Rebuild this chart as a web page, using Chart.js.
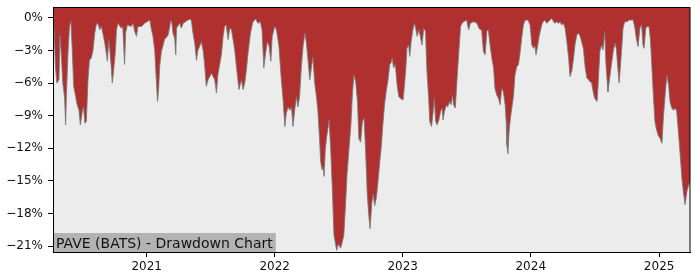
<!DOCTYPE html>
<html>
<head>
<meta charset="utf-8">
<script src="https://cdn.jsdelivr.net/npm/chart.js@4.4.1/dist/chart.umd.min.js"></script>
<style>
  html, body { margin: 0; padding: 0; background: #ffffff; }
  #wrap { width: 700px; height: 280px; }
</style>
</head>
<body>
<div id="wrap"><canvas id="ddChart" width="700" height="280"></canvas></div>
<script>
// Data
const dates = [
  '2020-04-09','2020-04-12','2020-04-16','2020-04-20','2020-04-26','2020-04-29','2020-05-03','2020-05-07','2020-05-12','2020-05-15',
  '2020-05-17','2020-05-22','2020-05-26','2020-05-30','2020-06-03','2020-06-07','2020-06-13','2020-06-16','2020-06-22','2020-06-26',
  '2020-07-02','2020-07-05','2020-07-09','2020-07-13','2020-07-18','2020-07-22','2020-07-27','2020-08-01','2020-08-06','2020-08-11',
  '2020-08-17','2020-08-20','2020-08-25','2020-08-29','2020-09-03','2020-09-08','2020-09-11','2020-09-15','2020-09-18','2020-09-22',
  '2020-09-25','2020-09-29','2020-10-04','2020-10-07','2020-10-11','2020-10-21','2020-10-25','2020-10-30','2020-11-02','2020-11-07',
  '2020-11-18','2020-11-23','2020-11-28','2020-12-03','2020-12-07','2020-12-17','2020-12-26',
  '2021-01-10','2021-01-14','2021-01-19','2021-01-24','2021-01-29','2021-02-01','2021-02-04','2021-02-07','2021-02-12','2021-02-21',
  '2021-03-03','2021-03-08','2021-03-10','2021-03-14','2021-03-17','2021-03-22','2021-03-25','2021-03-27','2021-04-05','2021-04-10',
  '2021-04-15','2021-04-29','2021-05-06','2021-05-09','2021-05-13','2021-05-18','2021-05-23','2021-05-27','2021-06-06','2021-06-11',
  '2021-06-15','2021-06-20','2021-06-25','2021-07-05','2021-07-14','2021-07-19','2021-07-23','2021-08-02','2021-08-07','2021-08-11',
  '2021-08-16','2021-08-21','2021-08-26','2021-08-31','2021-09-09','2021-09-14','2021-09-21','2021-09-28','2021-10-03','2021-10-08',
  '2021-10-12','2021-10-17','2021-10-24','2021-10-31','2021-11-08','2021-11-14','2021-11-21','2021-11-26','2021-12-01','2021-12-06',
  '2021-12-11','2021-12-16','2021-12-21','2021-12-25','2022-01-01',
  '2022-01-06','2022-01-13','2022-01-20','2022-01-25','2022-01-30','2022-02-03','2022-02-08','2022-02-13','2022-02-18','2022-02-22',
  '2022-02-27','2022-03-04','2022-03-08','2022-03-13','2022-03-18','2022-03-23','2022-03-28','2022-04-01','2022-04-06','2022-04-11',
  '2022-04-16','2022-04-20','2022-04-25','2022-04-30','2022-05-04','2022-05-09','2022-05-12','2022-05-16','2022-05-19','2022-05-22',
  '2022-05-25','2022-05-29','2022-06-05','2022-06-10','2022-06-15','2022-06-19','2022-06-24','2022-06-27','2022-07-02','2022-07-08',
  '2022-07-13','2022-07-17','2022-07-22','2022-07-26','2022-08-01','2022-08-06','2022-08-11','2022-08-15','2022-08-20','2022-08-25',
  '2022-08-29','2022-09-03','2022-09-08','2022-09-13','2022-09-18','2022-09-22','2022-09-27','2022-09-30','2022-10-05','2022-10-09',
  '2022-10-13','2022-10-18','2022-10-23','2022-10-28','2022-11-01','2022-11-05','2022-11-10','2022-11-16','2022-11-19','2022-11-25',
  '2022-11-29','2022-12-02','2022-12-06','2022-12-11','2022-12-16','2022-12-21','2022-12-25','2023-01-02',
  '2023-01-06','2023-01-10','2023-01-13','2023-01-18','2023-01-21','2023-01-25','2023-01-30','2023-02-03','2023-02-07','2023-02-11',
  '2023-02-16','2023-02-20','2023-02-25','2023-03-02','2023-03-07','2023-03-11','2023-03-16','2023-03-19','2023-03-24','2023-03-28',
  '2023-04-01','2023-04-05','2023-04-09','2023-04-14','2023-04-19','2023-04-23','2023-04-26','2023-04-30','2023-05-06','2023-05-09',
  '2023-05-15','2023-05-19','2023-05-23','2023-05-26','2023-05-31','2023-06-05','2023-06-10','2023-06-15','2023-06-19','2023-06-24',
  '2023-07-02','2023-07-08','2023-07-13','2023-07-22','2023-08-01','2023-08-06','2023-08-11','2023-08-14','2023-08-19','2023-08-24',
  '2023-08-29','2023-09-02','2023-09-07','2023-09-12','2023-09-17','2023-09-21','2023-09-26','2023-10-01','2023-10-06','2023-10-10',
  '2023-10-15','2023-10-20','2023-10-23','2023-10-25','2023-10-28','2023-10-31','2023-11-04','2023-11-08','2023-11-13','2023-11-17',
  '2023-11-22','2023-11-27','2023-12-02','2023-12-06','2023-12-11','2023-12-16','2023-12-24','2023-12-30',
  '2024-01-04','2024-01-09','2024-01-13','2024-01-16','2024-01-21','2024-01-25','2024-01-30','2024-02-03','2024-02-09','2024-02-16',
  '2024-02-20','2024-02-25','2024-03-01','2024-03-06','2024-03-10','2024-03-15','2024-03-20','2024-03-25','2024-03-29','2024-04-03',
  '2024-04-08','2024-04-13','2024-04-18','2024-04-22','2024-04-27','2024-05-02','2024-05-06','2024-05-11','2024-05-16','2024-05-21',
  '2024-05-25','2024-05-30','2024-06-04','2024-06-09','2024-06-14','2024-06-18','2024-06-22','2024-06-27','2024-07-01','2024-07-08',
  '2024-07-11','2024-07-16','2024-07-21','2024-07-25','2024-07-30','2024-08-02','2024-08-06','2024-08-08','2024-08-13','2024-08-18',
  '2024-08-23','2024-08-28','2024-09-01','2024-09-06','2024-09-09','2024-09-13','2024-09-17','2024-09-20','2024-09-25','2024-10-02',
  '2024-10-07','2024-10-14','2024-10-19','2024-10-24','2024-10-28','2024-11-02','2024-11-07','2024-11-12','2024-11-16','2024-11-19',
  '2024-11-24','2024-11-28','2024-12-03','2024-12-07','2024-12-11','2024-12-15','2024-12-20','2024-12-24','2024-12-29',
  '2025-01-04','2025-01-09','2025-01-13','2025-01-18','2025-01-23','2025-01-28','2025-02-01','2025-02-06','2025-02-11','2025-02-16',
  '2025-02-20','2025-02-25','2025-03-02','2025-03-07','2025-03-11','2025-03-16','2025-03-21','2025-03-26','2025-03-30'
];

const drawdown = [
  -0.6,-1.0,-4.5,-6.0,-5.7,-1.6,-3.6,-6.0,-7.3,-9.85,
  -7.3,-3.0,-0.8,-0.25,-3.0,-6.3,-7.3,-7.9,-8.5,-9.85,
  -8.5,-8.2,-9.7,-9.55,-5.55,-3.9,-3.7,-3.0,-1.4,-0.5,
  -0.65,-1.1,-0.8,-1.4,-2.2,-3.25,-4.0,-2.0,-3.0,-4.5,
  -6.0,-4.8,-3.0,-1.1,-0.5,-0.95,-0.8,-4.3,-1.4,-0.65,
  -0.8,-0.5,-1.25,-1.7,-0.8,-0.8,-0.5,
  -0.2,-0.95,-1.7,-3.0,-6.0,-7.7,-6.6,-4.5,-3.1,-2.0,
  -1.6,-0.8,-0.2,-0.5,-1.4,-1.9,-3.4,-0.95,-0.5,-0.95,
  -0.5,-0.2,-0.1,-0.35,-1.4,-2.3,-3.9,-3.0,-2.2,-3.0,
  -4.2,-6.3,-5.7,-5.1,-5.7,-6.9,-5.25,-3.4,-1.7,-0.8,
  -0.65,-2.0,-0.95,-1.1,-2.95,-4.5,-6.6,-5.7,-6.6,-5.9,
  -4.9,-3.25,-1.4,-0.35,-0.1,-0.5,-0.35,-1.1,-4.6,-3.25,
  -2.2,-2.6,-4.0,-1.7,-0.8,
  -1.1,-2.6,-5.7,-7.55,-10.0,-8.8,-8.2,-8.5,-8.2,-10.0,
  -8.5,-7.25,-8.2,-7.25,-4.5,-2.6,-1.4,-2.2,-3.9,-5.7,
  -4.5,-3.6,-6.0,-7.25,-8.5,-11.2,-13.2,-14.0,-13.7,-14.6,
  -12.2,-11.0,-9.4,-12.3,-16.3,-20.0,-20.9,-21.4,-20.8,-21.2,
  -20.6,-20.0,-17.2,-14.5,-12.0,-10.0,-6.8,-5.25,-5.9,-7.7,
  -11.1,-11.45,-9.55,-9.24,-12.9,-16.3,-18.45,-19.4,-17.0,-16.2,
  -17.3,-16.5,-14.9,-13.1,-11.85,-10.0,-8.0,-6.5,-6.0,-4.3,
  -4.1,-3.7,-4.6,-4.3,-6.2,-7.25,-7.4,-7.55,
  -6.2,-4.6,-2.8,-2.5,-3.55,-2.2,-1.1,-0.5,-0.95,-1.7,
  -1.1,-1.7,-2.5,-0.95,-1.25,-4.9,-7.4,-9.55,-10.0,-8.9,
  -7.4,-9.55,-9.85,-9.4,-8.6,-8.3,-9.4,-8.6,-8.0,-8.2,
  -7.7,-8.0,-7.1,-8.0,-8.3,-5.55,-3.1,-0.8,-0.5,-0.35,
  -0.2,-1.1,-0.5,-0.35,-0.5,-0.95,-1.1,-1.1,-3.1,-3.4,
  -1.2,-1.1,-2.5,-3.7,-4.6,-6.5,-7.1,-7.4,-8.0,-6.5,
  -6.8,-8.0,-9.55,-11.7,-12.5,-10.5,-9.25,-8.3,-7.1,-5.25,
  -4.5,-4.3,-3.1,-1.9,-0.65,-0.2,-0.2,-0.65,
  -2.5,-2.8,-2.6,-3.4,-2.5,-1.7,-0.95,-0.5,-0.2,-0.5,
  -0.35,-0.2,-0.05,-0.35,-0.5,-0.35,-0.5,-0.35,-0.65,-0.5,
  -0.95,-2.2,-3.7,-5.4,-4.9,-3.7,-2.5,-1.6,-1.4,-1.7,
  -2.2,-2.8,-4.5,-5.55,-5.7,-5.9,-5.9,-6.8,-7.4,-7.7,
  -6.2,-3.1,-2.5,-2.95,-1.26,-4.0,-5.9,-6.8,-5.55,-4.3,
  -3.1,-2.33,-2.8,-4.9,-6.0,-4.3,-2.5,-0.95,-0.35,-0.35,
  -0.2,-0.2,-0.2,-0.95,-1.9,-2.64,-0.95,-0.64,-2.5,-2.8,
  -0.95,-0.8,-0.8,-1.9,-4.3,-6.8,-9.55,-10.2,-10.8,
  -11.1,-11.55,-9.24,-7.1,-5.25,-6.2,-7.7,-8.3,-8.5,-8.3,
  -8.6,-10.5,-12.6,-14.8,-16.0,-17.2,-16.0,-15.4,-15.1
];

const yTickValues = [0, -3, -6, -9, -12, -15, -18, -21];
const yTickLabels = ['0%', '\u22123%', '\u22126%', '\u22129%', '\u221212%', '\u221215%', '\u221218%', '\u221221%'];
const xTickDates = ['2021-01-01', '2022-01-01', '2023-01-01', '2024-01-01', '2025-01-01'];
const xTickLabels = ['2021', '2022', '2023', '2024', '2025'];
const chartLabel = 'PAVE (BATS) - Drawdown Chart';

// Chart
const points = dates.map((d, i) => ({ x: Date.parse(d), y: drawdown[i] }));
const FONT = 'DejaVu Sans';

const plotFrame = {
  id: 'plotFrame',
  beforeDraw(chart) {
    const a = chart.chartArea;
    const ctx = chart.ctx;
    ctx.save();
    ctx.fillStyle = '#ececec';
    ctx.fillRect(a.left, a.top, a.right - a.left, a.bottom - a.top);
    ctx.restore();
  },
  afterDraw(chart) {
    const a = chart.chartArea;
    const ctx = chart.ctx;
    ctx.save();
    // label box
    ctx.font = '14px "' + FONT + '"';
    const tw = ctx.measureText(chartLabel).width;
    ctx.fillStyle = '#b3b3b3';
    ctx.fillRect(a.left, a.bottom - 19, tw + 6, 19);
    ctx.fillStyle = '#111111';
    ctx.textBaseline = 'alphabetic';
    ctx.fillText(chartLabel, a.left + 3, a.bottom - 4.5);
    // frame
    ctx.strokeStyle = '#000000';
    ctx.lineWidth = 1;
    ctx.strokeRect(a.left + 0.5, a.top + 0.5, a.right - a.left - 0.5, a.bottom - a.top);
    ctx.restore();
  }
};

new Chart(document.getElementById('ddChart'), {
  type: 'line',
  data: {
    datasets: [{
      data: points,
      fill: 'end',
      backgroundColor: '#b03030',
      borderColor: 'rgba(120,120,120,0.85)',
      borderWidth: 1,
      pointRadius: 0,
      tension: 0
    }]
  },
  options: {
    responsive: false,
    animation: false,
    devicePixelRatio: 1,
    layout: { padding: { left: 0, top: 7, right: 10, bottom: 0 } },
    plugins: {
      legend: { display: false },
      tooltip: { enabled: false }
    },
    scales: {
      x: {
        type: 'linear',
        min: Date.parse(dates[0]),
        max: Date.parse(dates[dates.length - 1]),
        afterBuildTicks: (scale) => {
          scale.ticks = xTickDates.map(d => ({ value: Date.parse(d) }));
        },
        afterFit: (scale) => {
          scale.height = 28;
          scale.paddingLeft = 0;
          scale.paddingRight = 0;
        },
        ticks: {
          autoSkip: false,
          maxRotation: 0,
          padding: 3,
          color: '#111111',
          font: { family: FONT, size: 12 },
          callback: (value, index) => xTickLabels[index]
        },
        grid: { drawOnChartArea: false, tickLength: 5, tickColor: '#000000' },
        border: { color: '#000000' }
      },
      y: {
        min: -21.55,
        max: 1.0,
        afterBuildTicks: (scale) => {
          scale.ticks = yTickValues.map(v => ({ value: v }));
        },
        afterFit: (scale) => {
          scale.width = 53;
          scale.paddingTop = 0;
          scale.paddingBottom = 0;
        },
        ticks: {
          autoSkip: false,
          padding: 5,
          color: '#111111',
          font: { family: FONT, size: 12 },
          callback: (value, index) => yTickLabels[index]
        },
        grid: { drawOnChartArea: false, tickLength: 5, tickColor: '#000000' },
        border: { color: '#000000' }
      }
    }
  },
  plugins: [plotFrame]
});
</script>
</body>
</html>
